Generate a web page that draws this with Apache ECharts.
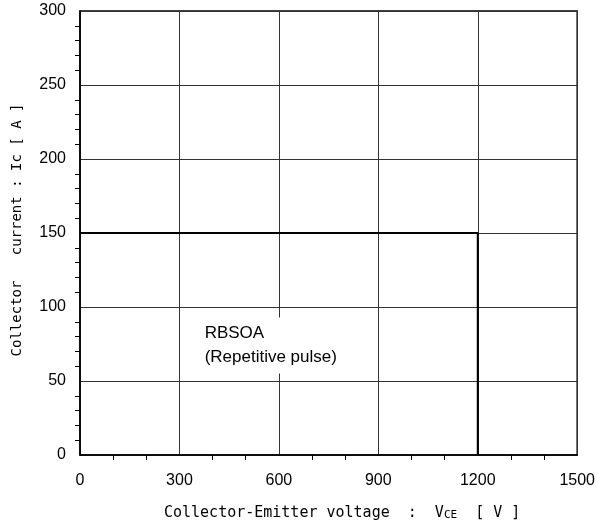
<!DOCTYPE html>
<html>
<head>
<meta charset="utf-8">
<script src="https://cdn.jsdelivr.net/npm/echarts@6/dist/echarts.min.js"></script>
<style>html,body{margin:0;padding:0;background:#fff;}#c{width:598px;height:528px;}</style>
</head>
<body>
<div id="c"></div>
<script>
// RBSOA boundary (Collector-Emitter voltage V, Collector current A)
var rbsoaVoltage = [0, 1200, 1200];
var rbsoaCurrent = [150, 150, 0];
var xTicks = [0, 300, 600, 900, 1200, 1500];
var yTicks = [0, 50, 100, 150, 200, 250, 300];
var labelPos = [370, 74];
var labelLines = ['RBSOA', '(Repetitive pulse)'];

var chart = echarts.init(document.getElementById('c'), null, {renderer: 'canvas'});
var pts = rbsoaVoltage.map(function (v, i) { return [v, rbsoaCurrent[i]]; });
chart.setOption({
  animation: false,
  backgroundColor: '#fff',
  grid: {left: 80, right: 19, top: 11, bottom: 73, show: true, borderColor: '#000', borderWidth: 1.5, backgroundColor: 'transparent'},
  xAxis: {
    type: 'value', min: xTicks[0], max: xTicks[xTicks.length - 1], interval: 300,
    axisLine: {show: true, lineStyle: {color: '#000', width: 1.5}},
    axisTick: {show: false},
    minorTick: {show: true, splitNumber: 3, length: 5, lineStyle: {color: '#000', width: 1}},
    minorSplitLine: {show: false},
    splitLine: {show: true, lineStyle: {color: '#333', width: 1}},
    axisLabel: {color: '#000', fontFamily: 'Liberation Sans', fontSize: 16, margin: 18,
      formatter: function (v) { return String(v); }},
    name: '   Collector-Emitter voltage  :  V{s|CE}  [ V ]',
    nameLocation: 'middle', nameGap: 51,
    nameTextStyle: {color: '#000', fontFamily: 'DejaVu Sans Mono', fontSize: 15,
      rich: {s: {fontFamily: 'DejaVu Sans Mono', fontSize: 11, color: '#000', verticalAlign: 'bottom'}}}
  },
  yAxis: {
    type: 'value', min: yTicks[0], max: yTicks[yTicks.length - 1], interval: 50,
    axisLine: {show: true, lineStyle: {color: '#000', width: 1.5}},
    axisTick: {show: false},
    minorTick: {show: true, splitNumber: 5, length: 5, lineStyle: {color: '#000', width: 1}},
    minorSplitLine: {show: false},
    splitLine: {show: true, lineStyle: {color: '#333', width: 1}},
    axisLabel: {color: '#000', fontFamily: 'Liberation Sans', fontSize: 16, margin: 14,
      formatter: function (v) { return String(v); }},
    name: 'Collector   current : Ic [ A ]',
    nameLocation: 'middle', nameGap: 56, nameRotate: 90,
    nameTextStyle: {color: '#000', fontFamily: 'DejaVu Sans Mono', fontSize: 14, padding: [0, 0, 0, 6]}
  },
  series: [{
    type: 'line', data: pts, symbol: 'none',
    lineStyle: {color: '#000', width: 2},
    markPoint: {
      symbol: 'rect', symbolSize: 0,
      data: [{coord: labelPos}],
      label: {
        show: true, position: [0, 0], align: 'left', verticalAlign: 'middle',
        formatter: labelLines.join('\n'),
        color: '#000', fontFamily: 'Liberation Sans', fontSize: 17, lineHeight: 24,
        backgroundColor: '#fff', padding: [4, 6, 4, 2]
      }
    }
  }]
});
</script>
</body>
</html>
